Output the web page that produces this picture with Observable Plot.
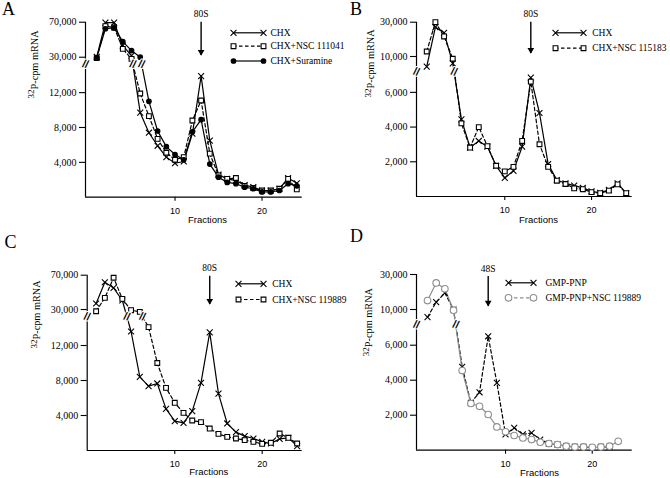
<!DOCTYPE html>
<html><head><meta charset="utf-8">
<script src="https://cdn.jsdelivr.net/npm/d3@7"></script>
<script src="https://cdn.jsdelivr.net/npm/@observablehq/plot@0.6"></script>
<style>
body{margin:0;background:#fff;}
#wrap{position:relative;width:670px;height:478px;overflow:hidden;background:#fff;}
#wrap svg{position:absolute;left:0;top:0;}
</style></head><body>
<div id="wrap"></div>
<script>
// ---------- DATA ----------
const fractions24 = [1,2,3,4,5,6,7,8,9,10,11,12,13,14,15,16,17,18,19,20,21,22,23,24];
const fractions23 = [1,2,3,4,5,6,7,8,9,10,11,12,13,14,15,16,17,18,19,20,21,22,23];
const fractions22 = [1,2,3,4,5,6,7,8,9,10,11,12,13,14,15,16,17,18,19,20,21,22];

// Panel A
const chxA        = [30500, 69500, 69500, 43300, 31900, 9700, 7400, 5900, 4600, 3900, 4100, 7300, 13900, 6500, 2600, 2100, 1900, 1400, 1150, 770, 770, 970, 2200, 1600];
const nsc111041A  = [29000, 65500, 64000, 39500, 28100, 11900, 9300, 6700, 5100, 4300, 4600, 8800, 11100, 5000, 2500, 2100, 2200, 1300, 1050, 770, 770, 970, 2100, 900];
const suramineA   = [29500, 62500, 63500, 47900, 37600, 30000, 11000, 7600, 5800, 4900, 4300, 7500, 8900, 3800, 2300, 1700, 1550, 1150, 970, 600, 600, 770, 1550, 1300];
const legendA = ["CHX", "CHX+NSC 111041", "CHX+Suramine"];

// Panel B
const chxB        = [8300, 27100, 23800, 8850, 4440, 2820, 3200, 2870, 1770, 1070, 1480, 2870, 6850, 4810, 1870, 950, 760, 630, 500, 300, 210, 380, 760, 190];
const nsc115183B  = [12900, 30000, 21700, 9620, 4210, 2820, 4000, 2900, 1770, 1450, 1710, 3200, 6620, 3010, 1710, 910, 720, 470, 420, 250, 190, 340, 700, 190];
const legendB = ["CHX", "CHX+NSC 115183"];

// Panel C
const chxC        = [37000, 61800, 55200, 40500, 13600, 8420, 7350, 7660, 4760, 3350, 3160, 4500, 7730, 13500, 6500, 3090, 2100, 1640, 1370, 990, 800, 1330, 1450, 500];
const nsc119889C  = [28000, 43600, 67000, 42400, 29200, 27300, 14100, 10000, 7160, 5450, 4300, 3430, 3240, 2510, 1900, 1560, 1370, 1180, 990, 760, 880, 1940, 1450, 800];
const legendC = ["CHX", "CHX+NSC 119889"];

// Panel D
const gmpPnpD     = [8720, 14200, 19500, 10000, 4760, 2700, 3310, 6510, 3850, 900, 1280, 900, 990, 610, 380, 320, 230, 190, 190, 130, 190, 190];
const gmpNsc119889D = [15100, 25200, 21800, 9890, 4550, 2670, 2510, 2040, 1330, 1050, 840, 700, 610, 460, 380, 320, 230, 190, 190, 170, 190, 230, 510];
const legendD = ["GMP-PNP", "GMP-PNP+NSC 119889"];

// Axes / labels
const yTicksAC = [4000, 8000, 12000, 30000, 70000];
const yTicksBD = [2000, 4000, 6000, 10000, 30000];
const xTicks = [10, 20];
const peakLabels = ["80S", "80S", "80S", "48S"];
const peakFractions = [13, 13, 14, 8];
const panelLetters = ["A", "B", "C", "D"];
const yLabel = "32P-cpm mRNA";
const xLabel = "Fractions";

// ---------- STYLE ----------
const SERIF = "'Liberation Serif', 'Times New Roman', serif";
const SANS = "'Liberation Sans', Arial, sans-serif";
const GRAY = "#8e8e8e";
const DASH = "3.5,2.5";
const STY = {
  chx:  {symbol: "times",  r: 2.8, fill: "none", stroke: "#000", dash: null},
  sq:   {symbol: "square", r: 2.7, fill: "#fff", stroke: "#000", dash: DASH},
  dot:  {symbol: "circle", r: 2.3, fill: "#000", stroke: "#000", dash: null},
  gmp:  {symbol: "times",  r: 2.8, fill: "none", stroke: "#000", dash: DASH, legendDash: null},
  circ: {symbol: "circle", r: 3.3, fill: "#fff", stroke: GRAY, dash: null, legendDash: DASH}
};

const rows = (fs, vs) => fs.map((f, i) => ({f, v: vs[i]}));

const panels = [
  { letter: 0, xDomain: [-0.29, 24.62], xRange: [85, 301.7],
    yDomain: [0, 15000, 25000, 70000], yRange: [196.7, 66.0, 61.1, 21.7], gap: [15000, 25000],
    yTicks: yTicksAC,
    series: [{f: fractions24, v: chxA, s: STY.chx}, {f: fractions24, v: nsc111041A, s: STY.sq}, {f: fractions24, v: suramineA, s: STY.dot}],
    legend: legendA, legendX: [233, 263, 270], legendY: [32.3, 45.7, 60.5],
    arrowPx: [21.7, 55], letterPos: [8, 9], yLabelPos: [33.5, 98], xLabelPos: [207, 219] },
  { letter: 1, xDomain: [-0.18, 24.69], xRange: [416, 631.7],
    yDomain: [0, 7000, 8000, 10000, 30000], yRange: [196, 74.5, 68, 56, 21.7], gap: [7000, 8000],
    yTicks: yTicksBD,
    series: [{f: fractions24, v: chxB, s: STY.chx}, {f: fractions24, v: nsc115183B, s: STY.sq}],
    legend: legendB, legendX: [555, 583, 591.7], legendY: [32.3, 47.7],
    arrowPx: [21.7, 53], letterPos: [355.5, 9], yLabelPos: [370, 97], xLabelPos: [538, 219.3] },
  { letter: 2, xDomain: [-0.02, 24.58], xRange: [86.7, 301.7],
    yDomain: [0, 15000, 25000, 70000], yRange: [450, 318.75, 313.3, 274.7], gap: [15000, 25000],
    yTicks: yTicksAC,
    series: [{f: fractions24, v: chxC, s: STY.chx}, {f: fractions24, v: nsc119889C, s: STY.sq}],
    legend: legendC, legendX: [238, 263, 271.7], legendY: [283.3, 299],
    arrowPx: [275.7, 304], letterPos: [10, 242], yLabelPos: [36, 348], xLabelPos: [208.3, 471.7] },
  { letter: 3, xDomain: [-0.27, 24.61], xRange: [416, 631.7],
    yDomain: [0, 7000, 8000, 10000, 30000], yRange: [449.7, 327.2, 321, 309, 274], gap: [7000, 8000],
    yTicks: yTicksBD,
    series: [{f: fractions22, v: gmpPnpD, s: STY.gmp}, {f: fractions23, v: gmpNsc119889D, s: STY.circ}],
    legend: legendD, legendX: [508, 533, 545], legendY: [282.3, 297.3],
    arrowPx: [276, 305.7], letterPos: [356, 236], yLabelPos: [368, 355.7], xLabelPos: [539, 472.3] }
];

function breakMarks(p, xs, ys) {
  const [lo, hi] = p.gap;
  const gapPx = (ys(lo) + ys(hi)) / 2;
  const gapVal = ys.invert(gapPx);
  const out = [];
  for (const s of p.series) {
    for (let i = 1; i < s.f.length; i++) {
      const a = s.v[i - 1], b = s.v[i];
      if ((a >= hi && b <= lo) || (a <= lo && b >= hi)) {
        const ya = ys(a), yb = ys(b);
        const t = (gapPx - ya) / (yb - ya);
        const fx = s.f[i - 1] + t * (s.f[i] - s.f[i - 1]);
        if (!out.some(o => Math.abs(xs(o.x) - xs(fx)) < 4)) out.push({x: fx, y: gapVal});
      }
    }
  }
  out.push({x: p.xDomain[0], y: gapVal});
  return out;
}

function drawPanel(p, idx) {
  const W = 670, H = 478;
  const xs = d3.scaleLinear(p.xDomain, p.xRange);
  const ys = d3.scaleLinear(p.yDomain, p.yRange);
  const X = px => xs.invert(px), Y = py => ys.invert(py);
  const top = p.yRange[p.yRange.length - 1], bottom = p.yRange[0];
  const marks = [];

  // axis lines
  marks.push(Plot.ruleY([0], {stroke: "#000", strokeWidth: 1.2}));
  marks.push(Plot.ruleX([p.xDomain[0]], {stroke: "#000", strokeWidth: 1.2}));
  marks.push(Plot.axisY({ticks: p.yTicks, tickFormat: d3.format(","), tickSize: 6, tickPadding: 3,
    label: null, fontFamily: SERIF, fontSize: 10, strokeWidth: 1.1}));
  marks.push(Plot.axisX({ticks: xTicks, tickSize: 4, tickPadding: 6, label: null,
    fontFamily: SANS, fontSize: 9, strokeWidth: 1.1}));

  // series lines then markers
  for (const s of p.series) {
    marks.push(Plot.line(rows(s.f, s.v), {x: "f", y: "v", stroke: s.s.stroke, strokeWidth: 1.2,
      strokeDasharray: s.s.dash || undefined}));
  }
  for (const s of p.series) {
    marks.push(Plot.dot(rows(s.f, s.v), {x: "f", y: "v", symbol: s.s.symbol, r: s.s.r,
      fill: s.s.fill, stroke: s.s.stroke, strokeWidth: 1.1}));
  }

  // axis / line breaks
  marks.push(Plot.text(breakMarks(p, xs, ys), {x: "x", y: "y", text: () => "//", fontFamily: SANS,
    fontSize: 11, fontWeight: "bold", rotate: 15, fill: "#000", stroke: "#fff", strokeWidth: 2, paintOrder: "stroke"}));

  // arrow + peak label
  const af = peakFractions[idx];
  const aTop = Y(p.arrowPx[0]), aTip = Y(p.arrowPx[1]);
  marks.push(Plot.ruleX([{x: af, y1: aTop, y2: aTip}], {x: "x", y1: "y1", y2: "y2", stroke: "#000", strokeWidth: 1.4}));
  marks.push(Plot.dot([{x: af, y: aTip}], {x: "x", y: "y", symbol: "triangle2", r: 3.2, rotate: 180, fill: "#000", dy: -3.5}));
  marks.push(Plot.text([{x: af, y: aTop, t: peakLabels[idx]}], {x: "x", y: "y", text: "t", dy: -5,
    fontFamily: SERIF, fontSize: 9.5, lineAnchor: "bottom"}));

  // legend
  p.legend.forEach((label, i) => {
    const s = p.series[i].s;
    const yv = Y(p.legendY[i]);
    const dash = s.legendDash !== undefined ? s.legendDash : s.dash;
    marks.push(Plot.ruleY([{y: yv, x1: X(p.legendX[0]), x2: X(p.legendX[1])}], {y: "y", x1: "x1", x2: "x2",
      stroke: s.stroke, strokeWidth: 1.2, strokeDasharray: dash || undefined}));
    marks.push(Plot.dot([{x: X(p.legendX[0]), y: yv}, {x: X(p.legendX[1]), y: yv}], {x: "x", y: "y",
      symbol: s.symbol, r: s.r, fill: s.fill, stroke: s.stroke, strokeWidth: 1.1}));
    marks.push(Plot.text([{x: X(p.legendX[2]), y: yv, t: label}], {x: "x", y: "y", text: "t", textAnchor: "start",
      fontFamily: SERIF, fontSize: 9.5}));
  });

  // axis titles
  marks.push(Plot.text([{x: X(p.xLabelPos[0]), t: xLabel}], {x: "x", text: "t", frameAnchor: "bottom",
    dy: p.xLabelPos[1] - bottom, fontFamily: SANS, fontSize: 9.5, lineAnchor: "middle"}));
  marks.push(Plot.text([{t: yLabel}], {text: "t", frameAnchor: "left", dx: p.yLabelPos[0] - p.xRange[0],
    dy: p.yLabelPos[1] - (top + bottom) / 2, rotate: -90, fontFamily: SERIF, fontSize: 10.3, lineAnchor: "middle", fill: "#000"}));
  // panel letter
  marks.push(Plot.text([{t: panelLetters[p.letter]}], {text: "t", frameAnchor: "top-left",
    dx: p.letterPos[0] - p.xRange[0], dy: p.letterPos[1] - top, fontFamily: SERIF, fontSize: 18,
    textAnchor: "middle", lineAnchor: "middle"}));

  const svg = Plot.plot({
    width: W, height: H,
    marginLeft: p.xRange[0], marginRight: W - p.xRange[1], marginTop: top, marginBottom: H - bottom,
    x: {domain: p.xDomain, range: p.xRange},
    y: {type: "linear", domain: p.yDomain, range: p.yRange},
    style: {background: "none", overflow: "visible", fontFamily: SERIF, color: "#000"},
    marks
  });

  // superscript isotope number in the y label
  const ns = "http://www.w3.org/2000/svg";
  svg.querySelectorAll("text").forEach(t => {
    if (t.textContent === yLabel) {
      t.textContent = "";
      const a = document.createElementNS(ns, "tspan");
      a.textContent = yLabel.slice(0, 2); a.setAttribute("font-size", "9"); a.setAttribute("dy", "-0.35em");
      a.setAttribute("fill", "#000");
      const b = document.createElementNS(ns, "tspan");
      b.textContent = yLabel.slice(2); b.setAttribute("dy", "0.35em");
      t.append(a, b);
    }
  });
  return svg;
}

const wrap = document.getElementById("wrap");
panels.forEach((p, i) => wrap.appendChild(drawPanel(p, i)));
</script></body></html>
